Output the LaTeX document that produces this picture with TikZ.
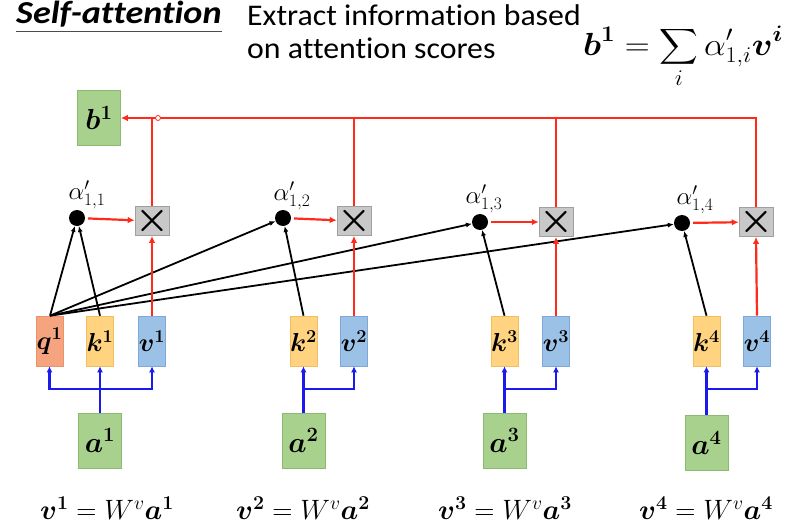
\RequirePackage{fix-cm}
\documentclass[tikz,border=0pt]{standalone}
\usepackage{amsmath}
\usepackage{fontspec}
\setmainfont{Carlito}[Ligatures=NoCommon]
\usetikzlibrary{arrows.meta}
\definecolor{gfill}{HTML}{A9D18E}
\definecolor{gdraw}{HTML}{8DBA72}
\definecolor{qfill}{HTML}{F5A47F}
\definecolor{qdraw}{HTML}{E8936C}
\definecolor{kfill}{HTML}{FFD37F}
\definecolor{kdraw}{HTML}{F0C060}
\definecolor{vfill}{HTML}{9BC2E6}
\definecolor{vdraw}{HTML}{7FA8D8}
\definecolor{mfill}{HTML}{C8C8C8}
\definecolor{rline}{HTML}{FF2A1A}
\definecolor{bline}{HTML}{1A1AF0}
\tikzset{
  vecbox/.style={draw, line width=0.6pt, minimum width=27pt, minimum height=50pt, inner sep=0pt, font=\fontsize{26}{26}\selectfont},
  qbox/.style={vecbox, fill=qfill, draw=qdraw},
  kbox/.style={vecbox, fill=kfill, draw=kdraw},
  vbox/.style={vecbox, fill=vfill, draw=vdraw},
  abox/.style={draw=gdraw, fill=gfill, line width=0.6pt, minimum width=43pt, minimum height=55pt, inner sep=0pt, font=\fontsize{29}{29}\selectfont},
  mulbox/.style={draw=mfill!80!black, fill=mfill, line width=0.5pt, minimum width=27pt, minimum height=28pt, inner sep=0pt, font=\fontsize{38}{38}\selectfont},
  scoredot/.style={circle, fill=black, minimum size=16pt, inner sep=0pt},
  alab/.style={font=\fontsize{25}{25}\selectfont},
  eqlab/.style={font=\fontsize{28}{28}\selectfont},
  redln/.style={draw=rline, line width=2.2pt},
  redarr/.style={redln, -{Latex[length=7pt,width=6.5pt]}},
  bluarr/.style={draw=bline, line width=2.6pt, -{Latex[length=6pt,width=6pt]}},
  bluln/.style={draw=bline, line width=2.6pt},
  blkarr/.style={draw=black, line width=1.8pt, -{Latex[length=6pt,width=5pt]}},
}
\begin{document}
\begin{tikzpicture}[x=1pt,y=-1pt]
\useasboundingbox (0,0) rectangle (790,530);
% title
\node[anchor=base west, inner sep=0pt, xscale=1.13] (title) at (16,23.5) {\fontsize{32}{32}\selectfont\bfseries\itshape Self-attention};
\draw[line width=0.8pt, black!70] (16,31) -- (222,31);
\node[anchor=base west, inner sep=0pt, xscale=1.06] (ext1) at (247,25) {\fontsize{30}{30}\selectfont Extract information based};
\node[anchor=base west, inner sep=0pt, xscale=1.06] (ext2) at (247,58) {\fontsize{30}{30}\selectfont on attention scores};
\node[anchor=base west, inner sep=0pt, xscale=1.08] (formula) at (583,55) {\fontsize{32}{32}\selectfont $\displaystyle \boldsymbol{b^1}=\sum_i \alpha'_{1,i}\boldsymbol{v^i}$};

% output
\node[abox] (b1) at (99,118) {$\boldsymbol{b^1}$};

% multipliers
\node[mulbox] (m1) at (152,221) {$\boldsymbol{\times}$};
\node[mulbox] (m2) at (354,221) {$\boldsymbol{\times}$};
\node[mulbox] (m3) at (556,222) {$\boldsymbol{\times}$};
\node[mulbox] (m4) at (756,222) {$\boldsymbol{\times}$};

% score dots
\node[scoredot] (d1) at (77,218) {};
\node[scoredot] (d2) at (283,218) {};
\node[scoredot] (d3) at (480,222) {};
\node[scoredot] (d4) at (682,223) {};
\node[alab] (l1) at (87,195) {$\alpha'_{1,1}$};
\node[alab] (l2) at (292,196) {$\alpha'_{1,2}$};
\node[alab] (l3) at (484,199) {$\alpha'_{1,3}$};
\node[alab] (l4) at (695,200) {$\alpha'_{1,4}$};

% q k v
\node[qbox] (q1) at (49.5,341) {$\boldsymbol{q^1}$};
\node[kbox] (k1) at (100,341) {$\boldsymbol{k^1}$};
\node[vbox] (v1) at (152,341) {$\boldsymbol{v^1}$};
\node[kbox] (k2) at (303.5,341) {$\boldsymbol{k^2}$};
\node[vbox] (v2) at (354,341) {$\boldsymbol{v^2}$};
\node[kbox] (k3) at (504.5,341) {$\boldsymbol{k^3}$};
\node[vbox] (v3) at (556,341) {$\boldsymbol{v^3}$};
\node[kbox] (k4) at (706.5,341) {$\boldsymbol{k^4}$};
\node[vbox] (v4) at (757,341) {$\boldsymbol{v^4}$};

% inputs
\node[abox] (a1) at (100,440.5) {$\boldsymbol{a^1}$};
\node[abox] (a2) at (303.5,440.5) {$\boldsymbol{a^2}$};
\node[abox] (a3) at (504.5,440.5) {$\boldsymbol{a^3}$};
\node[abox] (a4) at (706.5,443) {$\boldsymbol{a^4}$};

% equations
\node[eqlab] (e1) at (107,508) {$\boldsymbol{v^1}=W^{v}\boldsymbol{a^1}$};
\node[eqlab] (e2) at (303,508) {$\boldsymbol{v^2}=W^{v}\boldsymbol{a^2}$};
\node[eqlab] (e3) at (505,508) {$\boldsymbol{v^3}=W^{v}\boldsymbol{a^3}$};
\node[eqlab] (e4) at (706,508) {$\boldsymbol{v^4}=W^{v}\boldsymbol{a^4}$};

% blue connectors
\coordinate (j1) at (100,389);
\draw[bluln] (a1.north) -- (j1);
\draw[bluarr] (j1) -- (k1.south);
\draw[bluarr] (j1) -| (q1.south);
\draw[bluarr] (j1) -| (v1.south);
\foreach \i in {2,3,4}{
  \coordinate (j\i) at (a\i.north |- 0,389);
  \draw[bluarr] (a\i.north) -- (k\i.south);
  \draw[bluarr] (j\i) -| (v\i.south);
}

% black score lines
\coordinate (qtop) at ([xshift=0.5pt]q1.north);
\foreach \i in {1,2,3,4}{
  \draw[blkarr] (qtop) -- (d\i);
  \draw[blkarr] (k\i.north) -- (d\i);
}

% red connectors
\foreach \i in {1,2,3,4}{
  \draw[redarr, shorten <=3pt] (d\i) -- (m\i);
  \draw[redarr] (v\i.north) -- (m\i.south);
}
\draw[redarr] (m4.north) |- (b1.east);
\foreach \i in {1,2,3}{
  \draw[redln] (m\i.north) -- (m\i.north |- b1.east);
}
\node[circle, draw=rline, fill=white, line width=0.8pt, minimum size=5pt, inner sep=0pt] (ptr) at (158,118) {};
\end{tikzpicture}
\end{document}
